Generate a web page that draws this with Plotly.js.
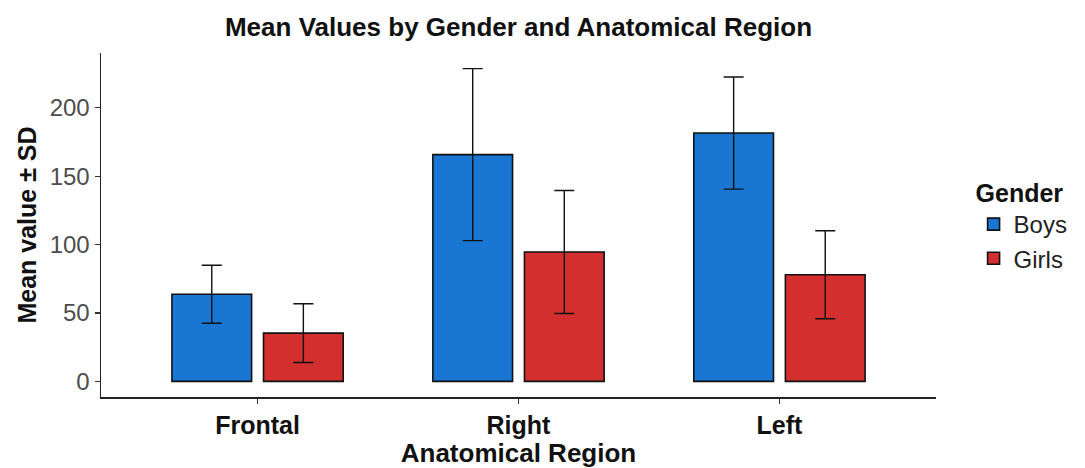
<!DOCTYPE html>
<html>
<head>
<meta charset="utf-8">
<script src="https://cdn.plot.ly/plotly-3.0.1.min.js"></script>
<style>html,body{margin:0;padding:0;background:#fff;}#chart{width:1085px;height:468px;}</style>
</head>
<body>
<div id="chart"></div>
<script>
const regions = ["Frontal", "Right", "Left"];
const boysMean = [63.7, 165.8, 181.6];
const boysSD = [21.2, 62.9, 41.0];
const girlsMean = [35.3, 94.6, 78.0];
const girlsSD = [21.5, 45.0, 32.2];
const yTicks = [0, 50, 100, 150, 200];

const font = "Liberation Sans, Arial, sans-serif";

const traces = [
  {
    type: "bar", name: "Boys", x: regions, y: boysMean,
    marker: {color: "#1976D2", line: {color: "#111111", width: 1.6}},
    error_y: {type: "data", array: boysSD, visible: true, color: "#111111", thickness: 1.4, width: 10}
  },
  {
    type: "bar", name: "Girls", x: regions, y: girlsMean,
    marker: {color: "#D32F2F", line: {color: "#111111", width: 1.6}},
    error_y: {type: "data", array: girlsSD, visible: true, color: "#111111", thickness: 1.4, width: 10}
  }
];

const layout = {
  width: 1085, height: 468,
  margin: {l: 101, r: 145, t: 53, b: 71},
  paper_bgcolor: "#ffffff", plot_bgcolor: "#ffffff",
  barmode: "group", bargap: 0.298, bargroupgap: 0.13,
  title: {
    text: "<b>Mean Values by Gender and Anatomical Region</b>",
    font: {family: font, size: 26, color: "#111111"},
    x: 0.5, xref: "paper", xanchor: "center",
    y: 1 - 27 / 468, yref: "container", yanchor: "middle"
  },
  xaxis: {
    type: "category", range: [-0.6, 2.6],
    showline: true, linecolor: "#222222", linewidth: 1.5,
    ticks: "outside", ticklen: 5, tickcolor: "#333333", tickwidth: 1.2,
    tickfont: {family: font, size: 25, color: "#111111", weight: "bold"},
    showgrid: false, zeroline: false,
    title: {text: "<b>Anatomical Region</b>", font: {family: font, size: 26, color: "#111111"}, standoff: 2}
  },
  yaxis: {
    range: [-11.4, 240.1],
    tickvals: yTicks, ticktext: yTicks.map(String),
    showline: true, linecolor: "#222222", linewidth: 1.5,
    ticks: "outside", ticklen: 5, tickcolor: "#333333", tickwidth: 1.2,
    tickfont: {family: font, size: 24, color: "#4D4D4D"},
    showgrid: false, zeroline: false,
    title: {text: "<b>Mean value ± SD</b>", font: {family: font, size: 25, color: "#111111"}, standoff: 6}
  },
  legend: {
    x: 1.045, xanchor: "left", y: 0.5, yanchor: "middle",
    title: {text: "<b>Gender</b>", font: {family: font, size: 25, color: "#111111"}},
    font: {family: font, size: 24, color: "#222222"},
    tracegroupgap: 0, itemwidth: 30, bgcolor: "rgba(0,0,0,0)"
  },
  showlegend: true
};

Plotly.newPlot("chart", traces, layout, {displayModeBar: false, staticPlot: true});
</script>
</body>
</html>
